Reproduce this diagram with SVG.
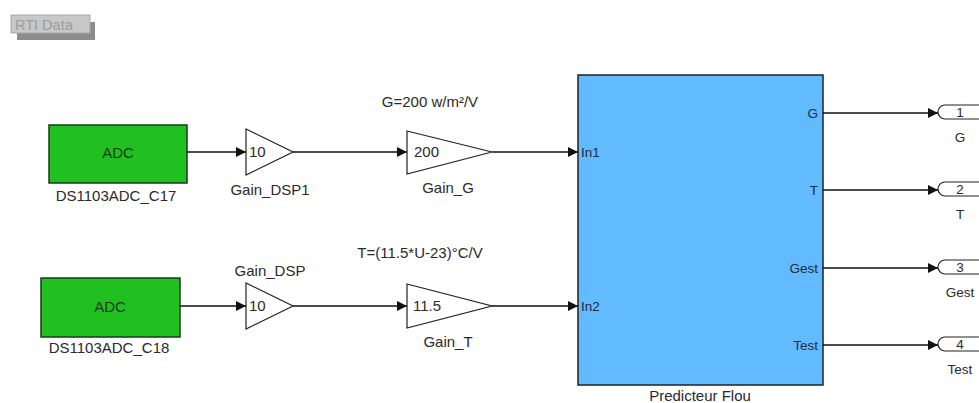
<svg xmlns="http://www.w3.org/2000/svg" width="979" height="403" viewBox="0 0 979 403">
<style>
text{font-family:"Liberation Sans",Arial,sans-serif;font-size:15px;fill:#2a2a2a}
.lbl{text-anchor:middle}
.tri{fill:#fff;stroke:#222;stroke-width:1.2}
.adc{fill:#20c020;stroke:#1a3a1a;stroke-width:1.5}
.adct{fill:#1a3a1a}
.wire{stroke:#111;stroke-width:1.4;fill:none}
.port{font-size:13.5px}
.bport{font-size:13.5px;fill:#1c2c44}
.out{fill:#fff;stroke:#222;stroke-width:1.2}
</style>
<defs>
<marker id="ah" viewBox="0 0 10 10" refX="10" refY="5" markerWidth="10" markerHeight="10" markerUnits="userSpaceOnUse" orient="auto">
<path d="M0,0 L10,5 L0,10 z" fill="#111"/>
</marker>
</defs>
<rect width="979" height="403" fill="#fff"/>
<g id="rti">
<rect x="17" y="22" width="78" height="18" fill="#8c8c8c"/>
<rect x="11" y="15" width="79" height="18" fill="#c8c8c8" stroke="#a8a8a8"/>
<text x="15" y="29.5" style="font-size:14.5px;fill:#9c9c9c">RTI Data</text>
</g>
<g id="adc17">
<rect class="adc" x="49" y="125" width="138" height="58"/>
<text class="lbl adct" x="118" y="158">ADC</text>
<text class="lbl" x="116" y="201">DS1103ADC_C17</text>
</g>
<g id="adc18">
<rect class="adc" x="41" y="278" width="139" height="59"/>
<text class="lbl adct" x="110" y="312">ADC</text>
<text class="lbl" x="109" y="353">DS1103ADC_C18</text>
</g>
<g id="gain_dsp1">
<path class="tri" d="M246,129 L293,152 L246,175 z"/>
<text x="249" y="157">10</text>
<text class="lbl" x="270" y="195">Gain_DSP1</text>
</g>
<g id="gain_dsp">
<path class="tri" d="M246,283 L293,306 L246,329 z"/>
<text x="249" y="311">10</text>
<text class="lbl" x="270" y="276">Gain_DSP</text>
</g>
<g id="gain_g">
<path class="tri" d="M407,131 L492,152 L407,174 z"/>
<text x="414" y="157">200</text>
<text class="lbl" x="448" y="193">Gain_G</text>
<text class="lbl" x="430" y="107">G=200 w/m²/V</text>
</g>
<g id="gain_t">
<path class="tri" d="M407,284 L492,306 L407,328 z"/>
<text x="413" y="311">11.5</text>
<text class="lbl" x="448" y="347">Gain_T</text>
<text class="lbl" x="420" y="258">T=(11.5*U-23)°C/V</text>
</g>
<g id="predicteur">
<rect x="578" y="75" width="245" height="310" fill="#62baff" stroke="#222" stroke-width="1.5"/>
<text class="bport" x="581" y="157">In1</text>
<text class="bport" x="581" y="311">In2</text>
<text class="bport" x="818" y="118" text-anchor="end">G</text>
<text class="bport" x="818" y="195" text-anchor="end">T</text>
<text class="bport" x="818" y="273" text-anchor="end">Gest</text>
<text class="bport" x="818" y="350" text-anchor="end">Test</text>
<text class="lbl" x="700" y="401">Predicteur Flou</text>
</g>
<g id="out1">
<rect class="out" x="938" y="105" width="48" height="14" rx="7"/>
<text class="lbl port" x="960" y="117">1</text>
<text class="lbl port" x="960" y="142">G</text>
</g>
<g id="out2">
<rect class="out" x="938" y="182" width="48" height="14" rx="7"/>
<text class="lbl port" x="960" y="194">2</text>
<text class="lbl port" x="960" y="219">T</text>
</g>
<g id="out3">
<rect class="out" x="938" y="260" width="48" height="14" rx="7"/>
<text class="lbl port" x="960" y="272">3</text>
<text class="lbl port" x="960" y="297">Gest</text>
</g>
<g id="out4">
<rect class="out" x="938" y="337" width="48" height="14" rx="7"/>
<text class="lbl port" x="960" y="349">4</text>
<text class="lbl port" x="960" y="374">Test</text>
</g>
<g id="connectors">
<path class="wire" d="M187,152 H246" marker-end="url(#ah)"/>
<path class="wire" d="M293,152 H407" marker-end="url(#ah)"/>
<path class="wire" d="M492,152 H578" marker-end="url(#ah)"/>
<path class="wire" d="M180,306 H246" marker-end="url(#ah)"/>
<path class="wire" d="M293,306 H407" marker-end="url(#ah)"/>
<path class="wire" d="M492,306 H578" marker-end="url(#ah)"/>
<path class="wire" d="M823,113 H938" marker-end="url(#ah)"/>
<path class="wire" d="M823,190 H938" marker-end="url(#ah)"/>
<path class="wire" d="M823,268 H938" marker-end="url(#ah)"/>
<path class="wire" d="M823,345 H938" marker-end="url(#ah)"/>
</g>
</svg>
